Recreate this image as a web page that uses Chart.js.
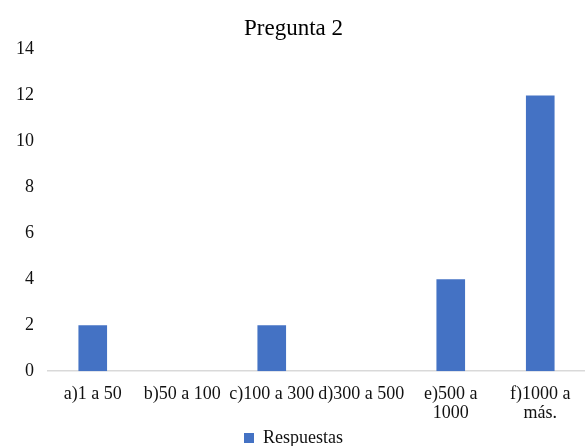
<!DOCTYPE html>
<html>
<head>
<meta charset="utf-8">
<script src="https://cdn.jsdelivr.net/npm/chart.js@4/dist/chart.umd.min.js"></script>
<style>
  html, body { margin: 0; padding: 0; background: #fff; }
  #wrap { width: 585px; height: 446px; }
</style>
</head>
<body>
<div id="wrap"><canvas id="grafico"></canvas></div>
<script>
// datos de la pregunta 2
const categorias = ["a)1 a 50", "b)50 a 100", "c)100 a 300", "d)300 a 500", ["e)500 a", "1000"], ["f)1000 a", "más."]];
const respuestas = [2, 0, 2, 0, 4, 12];
const ticksY = [0, 2, 4, 6, 8, 10, 12, 14];

const fuente = "'Liberation Serif', 'Times New Roman', serif";

new Chart(document.getElementById("grafico"), {
    type: "bar",
    data: {
        labels: categorias,
        datasets: [{
            label: "Respuestas",
            data: respuestas,
            backgroundColor: "#4472C4",
            borderWidth: 0,
            categoryPercentage: 1,
            barPercentage: 0.32
        }]
    },
    options: {
        responsive: true,
        maintainAspectRatio: false,
        animation: false,
        layout: { padding: { left: 2, right: 0, top: 15, bottom: -11 } },
        scales: {
            x: {
                grid: { display: false, drawTicks: false },
                border: { color: "#d9d9d9", width: 1.5 },
                ticks: { color: "#111", font: { family: fuente, size: 18, lineHeight: 1.05 }, maxRotation: 0, autoSkip: false, padding: 14 },
                // acercar la leyenda a las etiquetas
                afterFit: s => { s.height -= 8; }
            },
            y: {
                min: 0,
                max: 14,
                afterBuildTicks: axis => { axis.ticks = ticksY.map(v => ({ value: v })); },
                grid: { display: false, drawTicks: false },
                border: { display: false },
                ticks: { color: "#111", font: { family: fuente, size: 18 }, padding: 14 }
            }
        },
        plugins: {
            title: {
                display: true,
                text: "Pregunta 2",
                color: "#000",
                font: { family: fuente, size: 23, weight: "normal" },
                padding: { top: 0, bottom: 7 }
            },
            legend: {
                position: "bottom",
                labels: { color: "#111", font: { family: fuente, size: 18 }, boxWidth: 10, boxHeight: 10, padding: 0 }
            },
            tooltip: { enabled: false }
        }
    }
});
</script>
</body>
</html>
